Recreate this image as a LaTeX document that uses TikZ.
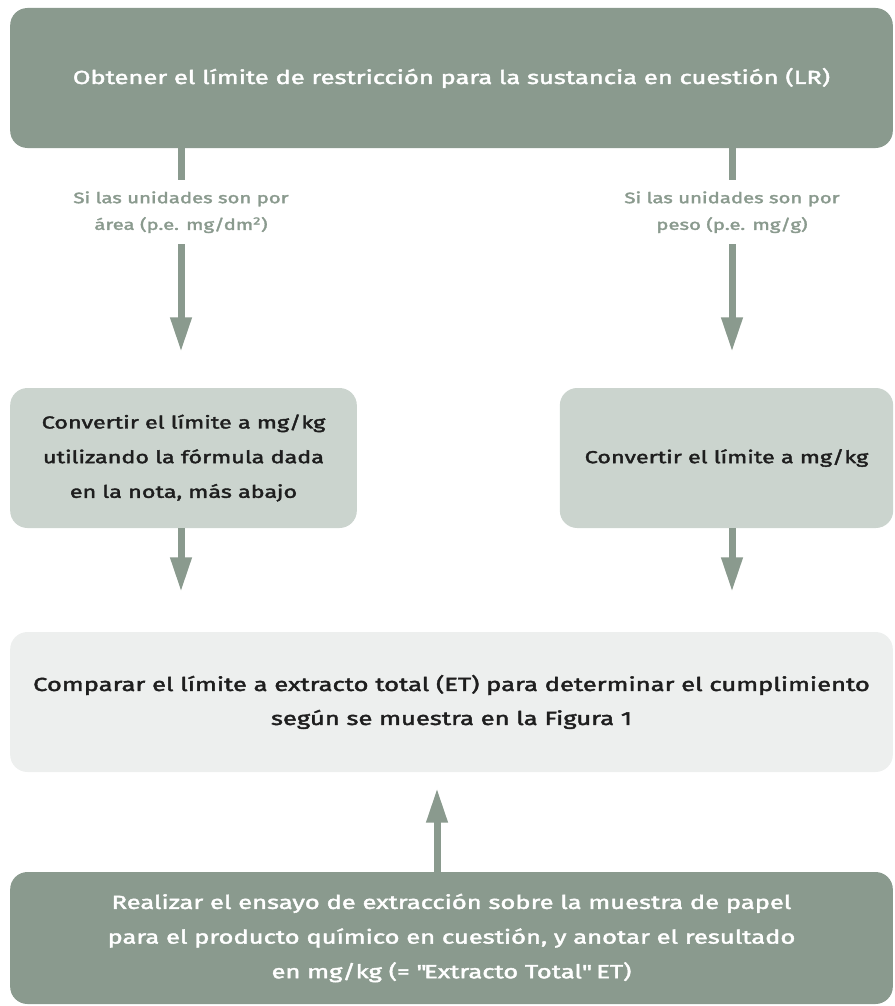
\documentclass[tikz,border=0pt]{standalone}
\usepackage{fontspec}
\setmainfont{Fira Sans}[FakeStretch=1.35, FakeBold=2.2]
\usetikzlibrary{arrows.meta}
\definecolor{sage}{RGB}{138,154,142}
\definecolor{sagelight}{RGB}{203,212,206}
\definecolor{sagepale}{RGB}{237,239,238}
\definecolor{ink}{RGB}{30,30,30}
\tikzset{
  darkbox/.style={fill=sage, rounded corners=13pt, text=white, align=center, inner sep=0pt, font=\fontsize{14.2}{26}\selectfont},
  midbox/.style={fill=sagelight, rounded corners=13pt, text=ink, align=center, inner sep=0pt, font=\fontsize{13}{26}\selectfont},
  palebox/.style={fill=sagepale, rounded corners=13pt, text=ink, align=center, inner sep=0pt, font=\fontsize{14.2}{25.5}\selectfont},
  flow/.style={draw=sage, line width=5.25pt, -{Triangle[width=15pt,length=26pt]}},
  cond/.style={fill=white, text=sage, align=center, inner sep=0pt, minimum height=48pt, minimum width=120pt, font=\fontsize{11.3}{20}\selectfont}
}
\begin{document}
\begin{tikzpicture}[x=0.75pt,y=-0.75pt]
  \useasboundingbox (0,0) rectangle (894,1006);

  \node[darkbox, minimum width=662pt, minimum height=105pt] (limite) at (451.5,78)
    {Obtener el límite de restricción para la sustancia en cuestión (LR)};
  \node[midbox, minimum width=260pt, minimum height=105pt] (area) at (183.5,458)
    {Convertir el límite a mg/kg\\utilizando la fórmula dada\\en la nota, más abajo};
  \node[midbox, minimum width=250pt, minimum height=105pt] (peso) at (726.5,458)
    {Convertir el límite a mg/kg};
  \node[palebox, minimum width=662pt, minimum height=105pt] (comparar) at (451.5,702)
    {Comparar el límite a extracto total (ET) para determinar el cumplimiento\\según se muestra en la Figura 1};
  \node[darkbox, minimum width=662pt, minimum height=99pt] (ensayo) at (451.5,938)
    {Realizar el ensayo de extracción sobre la muestra de papel\\para el producto químico en cuestión, y anotar el resultado\\en mg/kg (= \textquotedbl Extracto Total\textquotedbl\ ET)};

  \coordinate (tipA) at (181,352);
  \coordinate (tipP) at (732,352);
  \coordinate (tipA2) at (181,592);
  \coordinate (tipP2) at (732,592);
  \coordinate (tipC) at (437,788);

  \draw[flow] (limite.south -| tipA) -- (tipA)
    node[cond, pos=0.314] (condA) {Si las unidades son por\\área (p.e. mg/dm\textsuperscript{2})};
  \draw[flow] (limite.south -| tipP) -- (tipP)
    node[cond, pos=0.314] (condP) {Si las unidades son por\\peso (p.e. mg/g)};
  \draw[flow] (area.south -| tipA2) -- (tipA2);
  \draw[flow] (peso.south -| tipP2) -- (tipP2);
  \draw[flow] (ensayo.north -| tipC) -- (tipC);
\end{tikzpicture}
\end{document}
